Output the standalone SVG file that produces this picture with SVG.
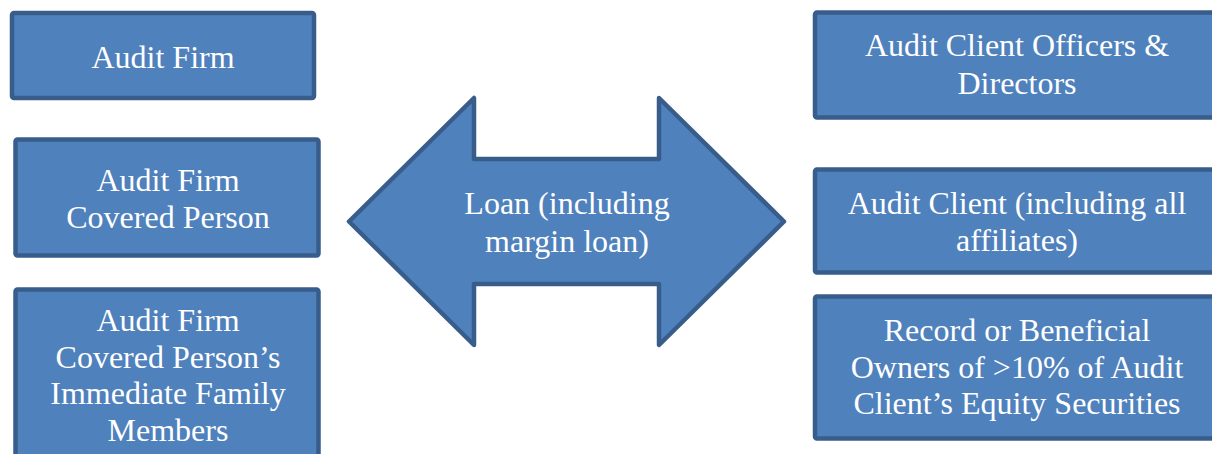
<svg xmlns="http://www.w3.org/2000/svg" width="1212" height="454" viewBox="0 0 1212 454">
<style>
.box{fill:#4F81BD;stroke:#385D8A;stroke-width:4.5;stroke-linejoin:round}
.t{font-family:"Liberation Serif","Times New Roman",serif;font-size:32px;fill:#FFFFFF;text-anchor:middle}
</style>
<rect width="1212" height="454" fill="#FFFFFF"/>
<g id="connectors">
<g id="loan">
<polygon class="box" points="349,221.5 474,98 474,159 659,159 659,98 784,221.5 659,345 659,284 474,284 474,345"/>
<text class="t" x="567" y="214">Loan (including</text>
<text class="t" x="567" y="252">margin loan)</text>
</g>
</g>
<g id="audit-firm">
<rect class="box" x="12" y="13" width="302" height="85" rx="2"/>
<text class="t" x="163" y="68">Audit Firm</text>
</g>
<g id="covered-person">
<rect class="box" x="15.5" y="139.5" width="303" height="116" rx="2"/>
<text class="t" x="168" y="191">Audit Firm</text>
<text class="t" x="168" y="227.5">Covered Person</text>
</g>
<g id="family-members">
<rect class="box" x="15.5" y="289.5" width="303" height="180" rx="2"/>
<text class="t" x="168" y="331">Audit Firm</text>
<text class="t" x="168" y="367.5">Covered Person’s</text>
<text class="t" x="168" y="404">Immediate Family</text>
<text class="t" x="168" y="440.5">Members</text>
</g>
<g id="officers-directors">
<rect class="box" x="815" y="12.5" width="404" height="105" rx="2"/>
<text class="t" x="1017" y="56">Audit Client Officers &amp;</text>
<text class="t" x="1017" y="94">Directors</text>
</g>
<g id="audit-client">
<rect class="box" x="815" y="169.5" width="404" height="103" rx="2"/>
<text class="t" x="1017" y="214">Audit Client (including all</text>
<text class="t" x="1017" y="251">affiliates)</text>
</g>
<g id="owners">
<rect class="box" x="815" y="296.5" width="404" height="142" rx="2"/>
<text class="t" x="1017" y="341">Record or Beneficial</text>
<text class="t" x="1017" y="377.5">Owners of &gt;10% of Audit</text>
<text class="t" x="1017" y="414">Client’s Equity Securities</text>
</g>
</svg>
